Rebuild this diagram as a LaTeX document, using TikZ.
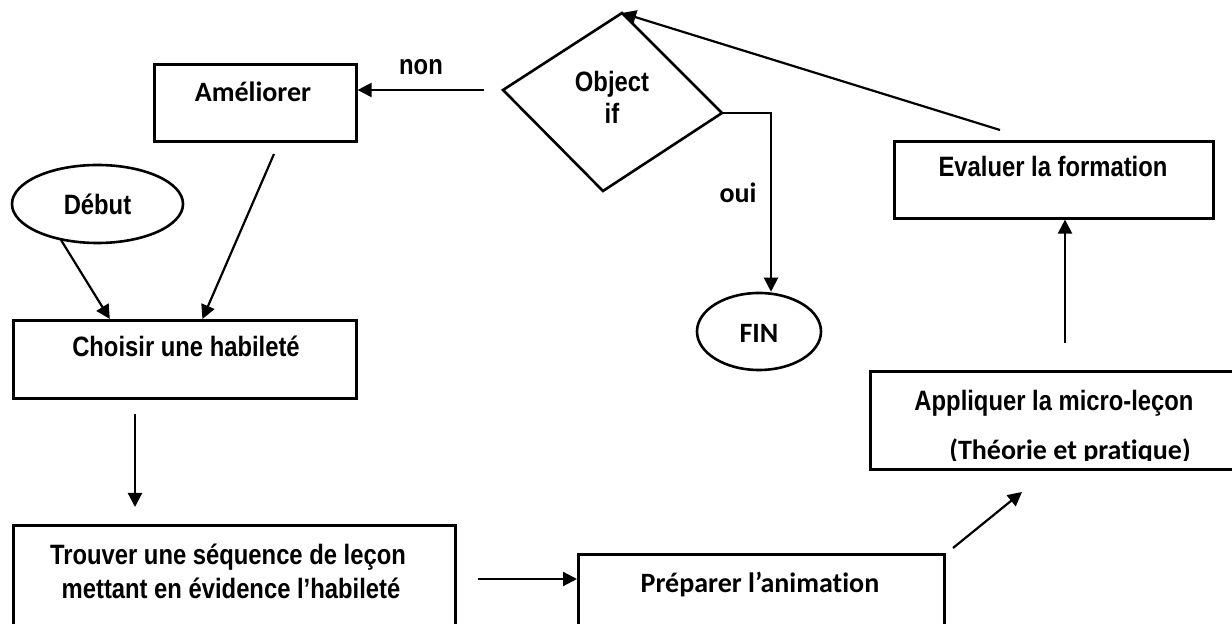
\documentclass[tikz,border=0pt]{standalone}
\usepackage{fontspec}
\usetikzlibrary{arrows.meta,shapes.geometric,calc}
\newfontfamily\arialf[FakeStretch=0.85]{Liberation Sans}
\newfontfamily\calf[Ligatures={NoCommon,NoContextual}]{Carlito}
\begin{document}
\begin{tikzpicture}[x=0.5pt,y=-0.5pt,
  box/.style={draw, line width=1.3pt, rectangle, anchor=north west, inner sep=0pt},
  oval/.style={draw, line width=1.3pt, ellipse, inner sep=0pt},
  arr/.style={-{Triangle[length=7pt,width=7pt]}, line width=1.1pt},
  ar/.style={font=\arialf\bfseries\fontsize{14}{17.5}\selectfont, anchor=base, inner sep=0pt},
  ca/.style={font=\calf\bfseries\fontsize{14}{17.5}\selectfont, anchor=base, inner sep=0pt}]
\clip (0,0) rectangle (1232,624);
\fill[white] (0,0) rectangle (1232,624);

% boxes
\node[box, minimum width=101pt, minimum height=38.5pt] (ame) at (153,63) {};
\node[box, minimum width=171.5pt, minimum height=39pt] (cho) at (12,319) {};
\node[box, minimum width=221pt, minimum height=60pt] (tro) at (12,524) {};
\node[box, minimum width=183pt, minimum height=50pt] (pre) at (577,553) {};
\node[box, minimum width=190pt, minimum height=49pt] (app) at (869,370) {};
\node[box, minimum width=159.5pt, minimum height=38.5pt] (eva) at (893,140) {};
\node[oval, minimum width=85.5pt, minimum height=39pt] (deb) at (97.5,204) {};
\node[oval, minimum width=62pt, minimum height=38.5pt] (fin) at (759,331.5) {};

% decision
\coordinate (dt) at (622,13);
\coordinate (dr) at (722,113);
\coordinate (db) at (603,191);
\coordinate (dl) at (503,90);
\draw[line width=1.3pt, line join=miter] (dt) -- (dr) -- (db) -- (dl) -- cycle;

% texts
\node[ca] (tame) at (253,102) {Améliorer};
\node[ar] (tdeb) at (97.5,215) {Début};
\node[ar] (tcho) at (186,357) {Choisir une habileté};
\node[ar] (ttro1) at (228,565) {Trouver une séquence de leçon};
\node[ar] (ttro2) at (231,599) {mettant en évidence l’habileté};
\node[ca] (tpre) at (760,593) {Préparer l’animation};
\node[ar] (tapp) at (1054,411) {Appliquer la micro-leçon};
\begin{scope}
  \clip (869,370) rectangle (1232,461);
  \node[ca] (tapp2) at (1070,460) {(Théorie et pratique)};
\end{scope}
\node[ar] (teva) at (1053,177) {Evaluer la formation};
\node[ar] (tobj1) at (612,92) {Object};
\node[ar] (tobj2) at (612,124) {if};
\node[ca] (tfin) at (759,343) {FIN};
\node[ar] (tnon) at (421,75) {non};
\node[ca] (toui) at (738,203) {oui};

% connectors
\coordinate (debout) at (61,240);
\draw[arr] (debout) -- ($(cho.north west)!0.283!(cho.north east)$);
\coordinate (ameout) at (274,154);
\draw[arr] (ameout) -- ($(cho.north west)!0.551!(cho.north east)$);
\coordinate (choout) at (135,414);
\coordinate (troin) at (135,507);
\draw[arr] (choout) -- (troin);
\coordinate (troout) at (478,579);
\draw[arr] (troout) -- (troout -| pre.west);
\coordinate (preout) at (953,548);
\coordinate (appin) at (1022,492);
\draw[arr] (preout) -- (appin);
\coordinate (appout) at (1065,343);
\draw[arr] (appout) -- (appout |- eva.south);
\coordinate (evaout) at (1000,130);
\draw[arr] (evaout) -- (dt);
\coordinate (diano) at (484,90);
\draw[arr] (diano) -- (diano -| ame.east);
\draw[arr] (dr) -| ($(fin.north)+(6pt,0)$);
\end{tikzpicture}
\end{document}
